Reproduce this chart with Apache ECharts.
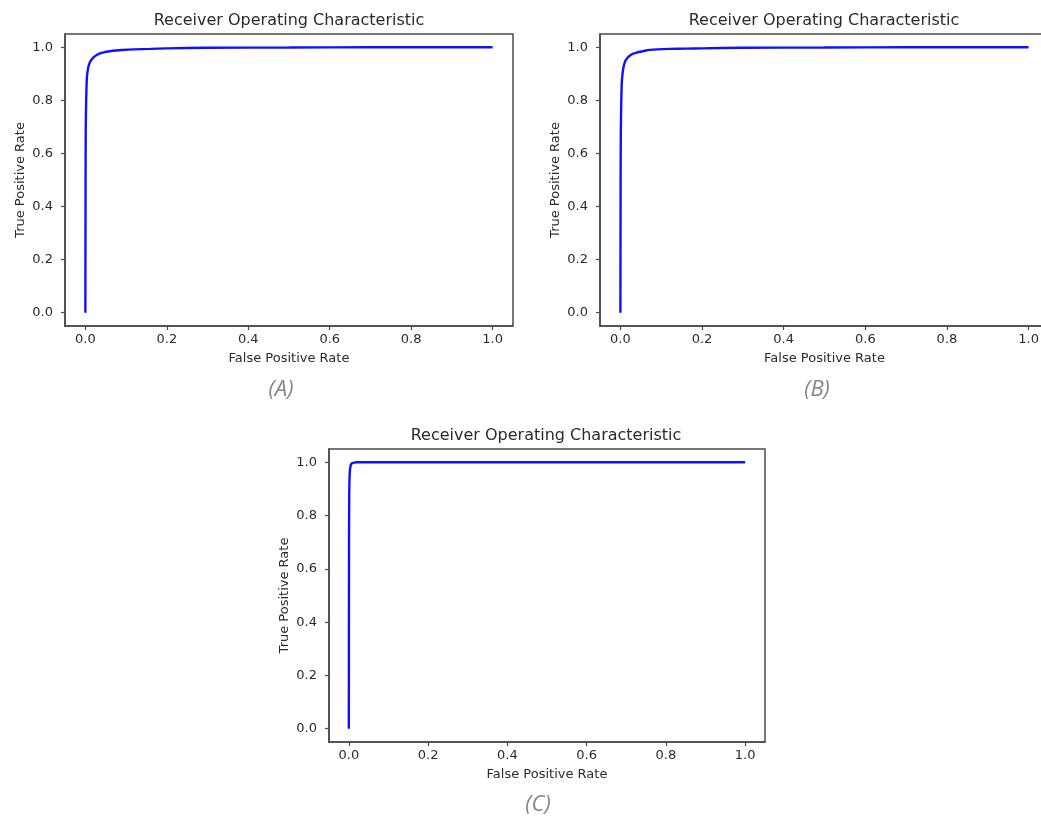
<!DOCTYPE html>
<html>
<head>
<meta charset="utf-8">
<script src="https://cdn.jsdelivr.net/npm/echarts@6/dist/echarts.min.js"></script>
<style>
html,body{margin:0;padding:0;background:#fff;overflow:hidden;}
#chart{width:1070px;height:818px;}
</style>
</head>
<body>
<div id="chart"></div>
<script>
// ---- data ----
const fprA = [0, 0.0005, 0.001, 0.002, 0.003, 0.004, 0.006, 0.008, 0.011, 0.015, 0.02, 0.028, 0.036, 0.045, 0.06, 0.075, 0.09, 0.12, 0.16, 0.2, 0.3, 0.5, 0.7, 1.0];
const tprA = [0, 0.5, 0.7, 0.8, 0.86, 0.89, 0.915, 0.93, 0.943, 0.953, 0.962, 0.971, 0.977, 0.981, 0.985, 0.988, 0.99, 0.992, 0.994, 0.996, 0.998, 0.999, 1.0, 1.0];
const fprB = [0, 0.0005, 0.001, 0.002, 0.003, 0.004, 0.006, 0.008, 0.012, 0.016, 0.022, 0.03, 0.038, 0.048, 0.06, 0.073, 0.09, 0.12, 0.16, 0.2, 0.3, 0.5, 0.7, 1.0];
const tprB = [0, 0.5, 0.68, 0.79, 0.85, 0.88, 0.91, 0.928, 0.948, 0.958, 0.967, 0.975, 0.979, 0.983, 0.987, 0.99, 0.992, 0.994, 0.995, 0.996, 0.998, 0.999, 1.0, 1.0];
const fprC = [0, 0.0005, 0.001, 0.002, 0.003, 0.004, 0.005, 0.007, 0.01, 0.015, 0.02, 1.0];
const tprC = [0, 0.7, 0.88, 0.95, 0.972, 0.983, 0.99, 0.995, 0.998, 0.999, 1.0, 1.0];
const xTicks = [0, 0.2, 0.4, 0.6, 0.8, 1.0];
const yTicks = [0, 0.2, 0.4, 0.6, 0.8, 1.0];
const chartTitle = 'Receiver Operating Characteristic';
const xName = 'False Positive Rate';
const yName = 'True Positive Rate';
const captions = ['(A)', '(B)', '(C)'];

// ---- layout ----
const FONT = 'DejaVu Sans';
const TXT = '#2a2a2a';
const FRAME = '#4a4a4a';
const grids = [
  {left: 65, top: 34, width: 448, height: 292},
  {left: 600, top: 34, width: 449, height: 292},
  {left: 329, top: 449, width: 436, height: 293}
];
const titlePos = [[289, 13], [824, 13], [546, 428]];
const capPos = [[281, 379], [817, 379], [538, 794]];

function zip(a, b) { return a.map((v, i) => [v, b[i]]); }
const curves = [zip(fprA, tprA), zip(fprB, tprB), zip(fprC, tprC)];

const option = {
  backgroundColor: '#fff',
  animation: false,
  title: [
    ...titlePos.map(p => ({
      text: chartTitle, left: p[0], top: p[1], textAlign: 'center', padding: 0,
      textStyle: {fontFamily: FONT, fontSize: 16, fontWeight: 'normal', color: TXT}
    })),
    ...capPos.map((p, i) => ({
      text: captions[i], left: p[0], top: p[1], textAlign: 'center', padding: 0,
      textStyle: {fontFamily: 'Open Sans', fontSize: 22, fontStyle: 'italic', fontWeight: 'normal', color: '#858585'}
    }))
  ],
  grid: grids.map(g => Object.assign({show: true, borderColor: FRAME, borderWidth: 1.5, backgroundColor: '#fff', containLabel: false}, g)),
  xAxis: grids.map((g, i) => ({
    type: 'value', gridIndex: i, min: -0.05, max: 1.05,
    name: xName, nameLocation: 'middle', nameGap: 26,
    nameTextStyle: {fontFamily: FONT, fontSize: 13, color: TXT},
    axisLine: {show: true, onZero: false, lineStyle: {color: FRAME, width: 1.5}},
    axisTick: {show: true, length: 4, customValues: xTicks, lineStyle: {color: FRAME, width: 1.2}},
    axisLabel: {customValues: xTicks, margin: 7, fontFamily: FONT, fontSize: 13, color: TXT,
      formatter: v => v.toFixed(1)},
    splitLine: {show: false}
  })),
  yAxis: grids.map((g, i) => ({
    type: 'value', gridIndex: i, min: -0.05, max: 1.05,
    name: yName, nameLocation: 'middle', nameGap: 38, nameRotate: 90,
    nameTextStyle: {fontFamily: FONT, fontSize: 13, color: TXT},
    axisLine: {show: true, onZero: false, lineStyle: {color: FRAME, width: 1.5}},
    axisTick: {show: true, length: 4, customValues: yTicks, lineStyle: {color: FRAME, width: 1.2}},
    axisLabel: {customValues: yTicks, margin: 12, fontFamily: FONT, fontSize: 13, color: TXT,
      formatter: v => v.toFixed(1)},
    splitLine: {show: false}
  })),
  series: curves.map((d, i) => ({
    type: 'line', xAxisIndex: i, yAxisIndex: i, data: d,
    showSymbol: false, symbol: 'none', smooth: 0.2,
    lineStyle: {color: '#1010ff', width: 2.4}
  }))
};

const chart = echarts.init(document.getElementById('chart'), null, {renderer: 'canvas'});
chart.setOption(option);
</script>
</body>
</html>
